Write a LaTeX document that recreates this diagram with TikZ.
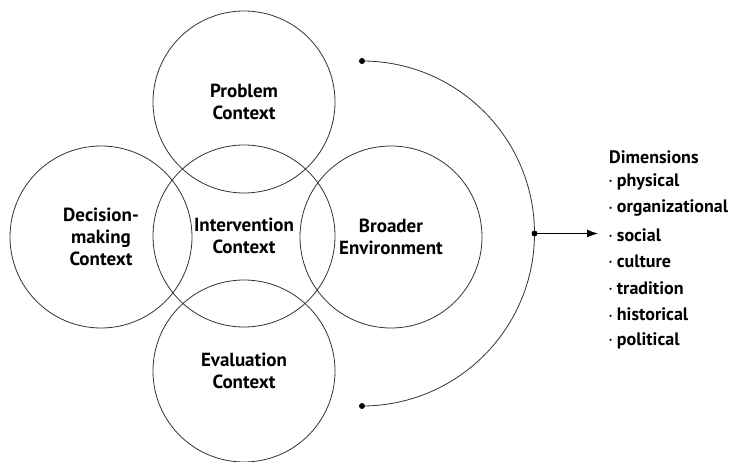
\documentclass[tikz,border=0pt]{standalone}
\usepackage{fontspec}
\setmainfont{PT Sans}
\usepackage{tikz}
\usetikzlibrary{arrows.meta}

\begin{document}
\begin{tikzpicture}[x=1pt,y=1pt,ctx/.style={circle,draw=black!80,line width=0.8pt,
	minimum size=182pt,inner sep=0pt,align=center,font=\bfseries\fontsize{19}{22}\selectfont},
	item/.style={anchor=west,inner sep=2pt,font=\bfseries\fontsize{18}{20}\selectfont}]
\useasboundingbox (0,0) rectangle (747,461);
\node[ctx] (problem) at (244,359) {Problem\\Context};
\node[ctx] (decision) at (101,224) {Decision-\\making\\Context};
\node[ctx] (broader) at (391,224) {Broader\\Environment};
\node[ctx] (evaluation) at (244,90) {Evaluation\\Context};
\node[ctx] (intervention) at (244,225) {Intervention\\Context};
% arc round the contexts
\coordinate (arctop) at (362,400);
\coordinate (arcbot) at (362,55);
\coordinate (arcmid) at (534.5,227.5);
\draw[black!80, line width=0.8pt] (arctop) arc[start angle=90, end angle=-90, radius=172.5];
\foreach \p in {arctop,arcbot,arcmid}
	\fill (\p) circle (3pt);
% dimensions
\node[item] (dims) at (607,304) {Dimensions};
\foreach \t [count=\i] in {physical,organizational,social,culture,tradition,historical,political}
	\node[item] (d\i) at (607,{279-(\i-1)*26.5}) {\raisebox{.3ex}{\scriptsize\textbullet}\ \t};
\draw[-{Latex[length=11pt,width=8pt]}, line width=1pt] (arcmid) -- ([xshift=-9pt]arcmid -| d3.west);
\end{tikzpicture}
\end{document}
